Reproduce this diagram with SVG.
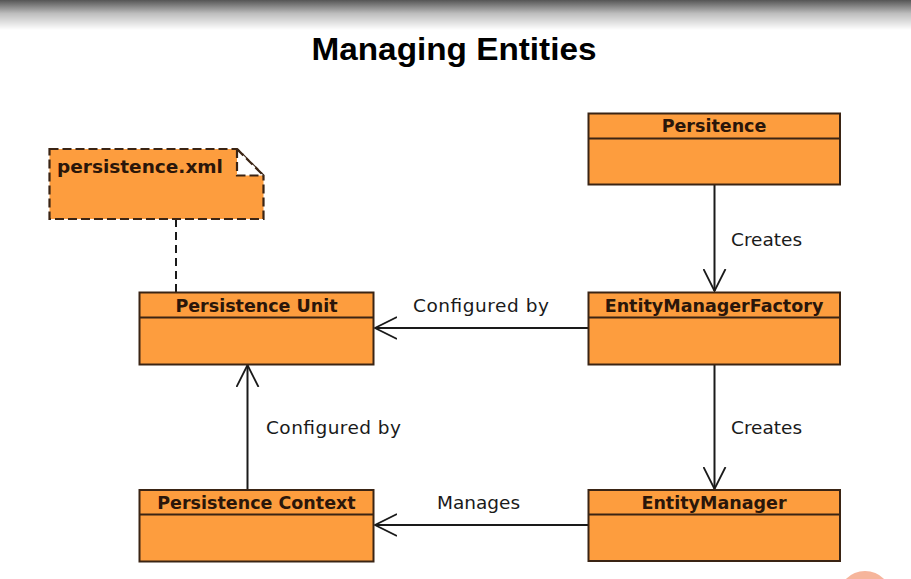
<svg xmlns="http://www.w3.org/2000/svg" width="911" height="579" viewBox="0 0 911 579">
<defs>
<linearGradient id="topShade" x1="0" y1="0" x2="0" y2="1">
<stop offset="0" stop-color="#555555"/>
<stop offset="0.45" stop-color="#bdbdbd"/>
<stop offset="1" stop-color="#ffffff"/>
</linearGradient>
<marker id="open" viewBox="0 0 24 24" markerWidth="24" markerHeight="24" refX="22" refY="12" orient="auto" markerUnits="userSpaceOnUse">
<path d="M0,1 L22,12 L0,23" fill="none" stroke="#1a1a1a" stroke-width="1.8"/>
</marker>
</defs>
<style>
.box{fill:#fd9d3e;stroke:#3a2414;stroke-width:2}
.div{stroke:#3a2414;stroke-width:2}
.hdr{font-family:"DejaVu Sans",sans-serif;font-weight:bold;font-size:17.5px;fill:#2a160a;text-anchor:middle}
.lbl{font-family:"DejaVu Sans",sans-serif;font-size:18.5px;fill:#1a1a1a}
.edge{stroke:#1a1a1a;stroke-width:2;fill:none}
</style>
<rect width="911" height="579" fill="#ffffff"/>
<rect x="0" y="0" width="911" height="30" fill="url(#topShade)"/>
<text x="454" y="59.5" font-family="Liberation Sans, sans-serif" font-weight="bold" font-size="30.5" text-anchor="middle" textLength="285" lengthAdjust="spacingAndGlyphs" fill="#000">Managing Entities</text>

<g id="connectors">
<path class="edge" d="M176,219 L176,292" stroke-dasharray="8,5"/>
<path class="edge" d="M714.5,185 L714.5,291" marker-end="url(#open)"/>
<path class="edge" d="M588,328 L375,328" marker-end="url(#open)"/>
<path class="edge" d="M247.5,490 L247.5,365" marker-end="url(#open)"/>
<path class="edge" d="M714.5,365 L714.5,489" marker-end="url(#open)"/>
<path class="edge" d="M588,525 L375,525" marker-end="url(#open)"/>
<text class="lbl" x="731" y="246">Creates</text>
<text class="lbl" x="413" y="312" textLength="136">Configured by</text>
<text class="lbl" x="266" y="434" textLength="135">Configured by</text>
<text class="lbl" x="731" y="434">Creates</text>
<text class="lbl" x="437" y="509">Manages</text>
</g>

<g id="note-persistence-xml">
<path d="M49.5,149 L237,149 L263.5,175.5 L263.5,219 L49.5,219 Z" fill="#fd9d3e" stroke="#3a2414" stroke-width="2.2" stroke-dasharray="9,4"/>
<path d="M237,149 L237,175.5 L263.5,175.5 Z" fill="#ffffff" stroke="none"/>
<path d="M237,149 L237,175.5 L263.5,175.5 M237,149 L263.5,175.5" fill="none" stroke="#3a2414" stroke-width="2.2" stroke-dasharray="9,4"/>
<text x="57" y="173" font-family="DejaVu Sans, sans-serif" font-weight="bold" font-size="18.5" fill="#2a160a">persistence.xml</text>
</g>

<g id="node-persitence">
<rect class="box" x="588.5" y="113.5" width="251.5" height="71"/>
<line class="div" x1="588.5" y1="138.5" x2="840" y2="138.5"/>
<text class="hdr" x="714" y="132">Persitence</text>
</g>

<g id="node-persistence-unit">
<rect class="box" x="139.5" y="292.5" width="234" height="72"/>
<line class="div" x1="139.5" y1="317.5" x2="373.5" y2="317.5"/>
<text class="hdr" x="256.5" y="311.5">Persistence Unit</text>
</g>

<g id="node-entitymanagerfactory">
<rect class="box" x="588.5" y="292.5" width="251.5" height="72"/>
<line class="div" x1="588.5" y1="317.5" x2="840" y2="317.5"/>
<text class="hdr" x="714" y="311.5">EntityManagerFactory</text>
</g>

<g id="node-persistence-context">
<rect class="box" x="139.5" y="490" width="234" height="71.5"/>
<line class="div" x1="139.5" y1="514.5" x2="373.5" y2="514.5"/>
<text class="hdr" x="256.5" y="509">Persistence Context</text>
</g>

<g id="node-entitymanager">
<rect class="box" x="588.5" y="490" width="251.5" height="71"/>
<line class="div" x1="588.5" y1="514.5" x2="840" y2="514.5"/>
<text class="hdr" x="714" y="509">EntityManager</text>
</g>

<circle cx="865" cy="598" r="27" fill="#f6b59b"/>
</svg>
